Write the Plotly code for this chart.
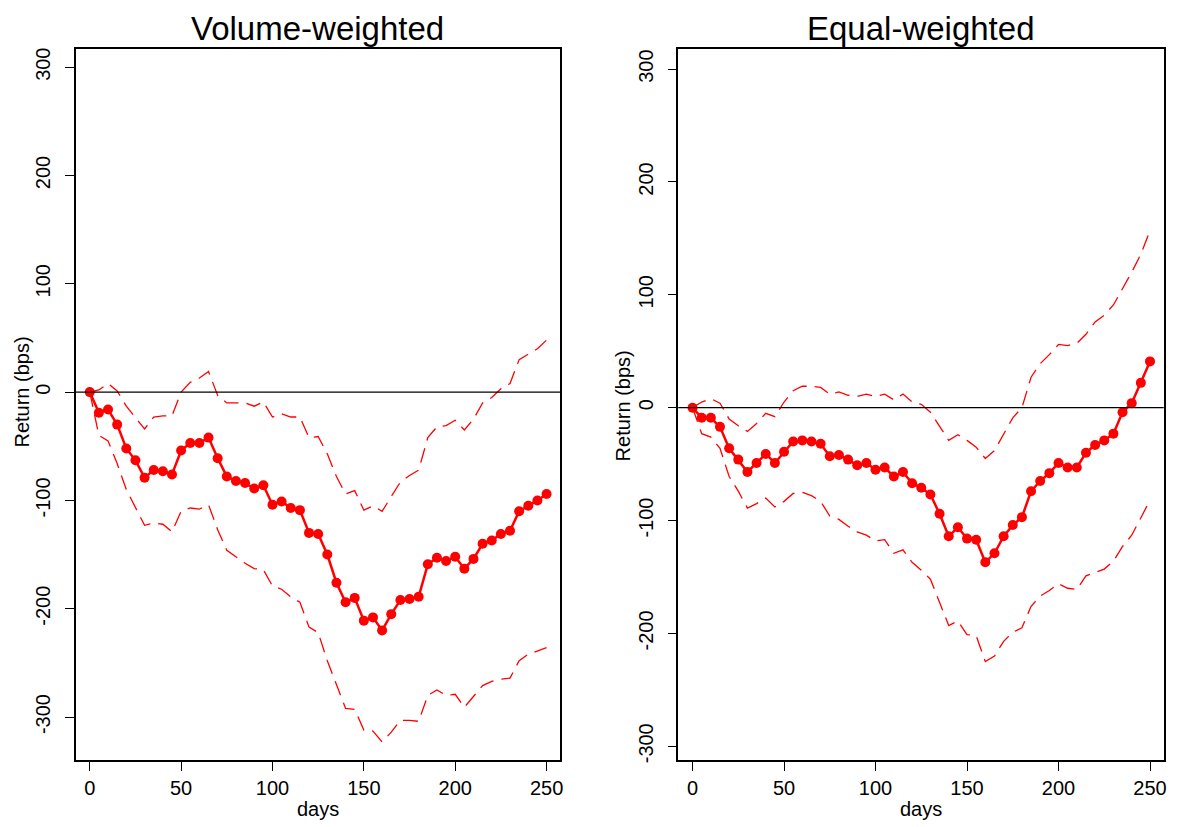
import plotly.graph_objects as go

# ---- data ----
days = [0, 5, 10, 15, 20, 25, 30, 35, 40, 45, 50, 55, 60, 65, 70, 75, 80, 85, 90, 95,
        100, 105, 110, 115, 120, 125, 130, 135, 140, 145, 150, 155, 160, 165, 170, 175,
        180, 185, 190, 195, 200, 205, 210, 215, 220, 225, 230, 235, 240, 245, 250]

vw_mean = [0, -19, -16, -30, -52, -63, -79, -72, -73, -76, -54, -47, -47, -42, -61, -78, -82,
           -84, -89, -86, -104, -101, -107, -109, -130, -131, -150, -176, -194, -190, -211,
           -208, -220, -205, -192, -191, -189, -159, -153, -156, -152, -163, -154, -140, -137,
           -131, -128, -110, -105, -100, -94]
vw_upper = [0, 2, 8, 1, -13, -24, -34, -23, -22, -22, 0, 9, 13, 19, -3, -10, -10, -10, -13, -9,
            -23, -20, -23, -23, -42, -41, -57, -78, -94, -91, -109, -105, -110, -96, -83, -77,
            -72, -42, -32, -31, -26, -35, -25, -10, -5, 3, 8, 30, 35, 40, 48]
vw_lower = [0, -40, -45, -66, -90, -107, -123, -121, -122, -129, -110, -107, -108, -104, -127,
            -146, -152, -158, -163, -164, -179, -182, -189, -194, -217, -222, -248, -270, -292,
            -293, -312, -313, -323, -314, -303, -303, -304, -280, -275, -280, -279, -291, -281,
            -271, -267, -265, -264, -248, -242, -239, -236]

ew_mean = [0, -9, -9, -17, -36, -46, -57, -49, -41, -49, -39, -30, -29, -30, -32, -43, -42, -46,
           -51, -49, -55, -53, -61, -57, -67, -71, -77, -94, -114, -106, -116, -117, -137, -129,
           -114, -104, -97, -74, -65, -58, -49, -53, -53, -40, -33, -29, -23, -4, 4, 22, 41]
ew_upper = [0, 5, 8, 4, -10, -16, -21, -14, -5, -8, 5, 15, 19, 19, 18, 12, 14, 11, 10, 12, 10,
            12, 7, 12, 5, 3, -4, -17, -29, -24, -29, -35, -45, -38, -23, -9, 0, 27, 39, 47, 56,
            55, 57, 65, 76, 82, 91, 105, 120, 136, 157]
ew_lower = [0, -23, -26, -36, -61, -74, -89, -85, -80, -88, -83, -76, -75, -78, -83, -96, -99,
            -105, -110, -113, -118, -117, -129, -126, -137, -144, -152, -173, -193, -189, -201,
            -202, -225, -220, -207, -199, -195, -176, -167, -162, -156, -160, -161, -149, -146,
            -143, -136, -123, -113, -97, -82]

titles = ["Volume-weighted", "Equal-weighted"]
y_ticks = [-300, -200, -100, 0, 100, 200, 300]
y_ticktext = ["-300", "-200", "-100", "0", "100", "200", "300"]
x_ticks = [0, 50, 100, 150, 200, 250]

# ---- figure ----
W, H = 1177, 827
FONT = "Arial, 'Liberation Sans', sans-serif"
RED = "#ff0000"

fig = go.Figure()

panels = [
    dict(mean=vw_mean, up=vw_upper, lo=vw_lower, xa="x", ya="y"),
    dict(mean=ew_mean, up=ew_upper, lo=ew_lower, xa="x2", ya="y2"),
]
for p in panels:
    for band in (p["up"], p["lo"]):
        fig.add_trace(go.Scatter(x=days, y=band, mode="lines", xaxis=p["xa"], yaxis=p["ya"],
                                 line=dict(color=RED, width=1.3, dash="15px,8px"),
                                 showlegend=False, hoverinfo="skip"))
    fig.add_trace(go.Scatter(x=days, y=p["mean"], mode="lines+markers",
                             xaxis=p["xa"], yaxis=p["ya"],
                             line=dict(color=RED, width=2.5),
                             marker=dict(color=RED, size=10),
                             showlegend=False))

xdom = [[75.7 / W, 561.7 / W], [680 / W, 1166.7 / W]]
ydom = [1 - 762.5 / H, 1 - 48 / H]
yranges = [[-339.5, 317], [-312, 318]]

axis_common = dict(showline=True, mirror=True, linecolor="black", linewidth=1.5,
                   ticks="outside", ticklen=9, tickwidth=1.3, tickcolor="black",
                   showgrid=False, zeroline=False,
                   tickfont=dict(family=FONT, size=20, color="black"))

layout = dict(width=W, height=H, margin=dict(l=0, r=0, t=0, b=0),
              plot_bgcolor="white", paper_bgcolor="white",
              font=dict(family=FONT, color="black"))
for i in range(2):
    sx = "" if i == 0 else str(i + 1)
    layout["xaxis" + sx] = dict(axis_common, domain=xdom[i], range=[-7.8, 257.5],
                                tickvals=x_ticks, anchor="y" + sx)
    layout["yaxis" + sx] = dict(axis_common, domain=ydom, range=yranges[i],
                                tickvals=y_ticks, ticktext=y_ticktext,
                                tickangle=-90, ticklabelstandoff=7,
                                anchor="x" + sx)
fig.update_layout(**layout)

shapes = []
annotations = []
for i in range(2):
    sx = "" if i == 0 else str(i + 1)
    shapes.append(dict(type="line", xref="x" + sx + " domain", x0=0, x1=1,
                       yref="y" + sx, y0=0, y1=0, line=dict(color="black", width=1.3)))
    cx = (xdom[i][0] + xdom[i][1]) / 2
    annotations.append(dict(text=titles[i], xref="paper", yref="paper", x=cx, y=1 - 28 / H,
                            xanchor="center", yanchor="middle", showarrow=False,
                            font=dict(family=FONT, size=33, color="black")))
    annotations.append(dict(text="days", xref="paper", yref="paper", x=cx, y=1 - 812 / H,
                            xanchor="center", yanchor="middle", showarrow=False,
                            font=dict(family=FONT, size=20, color="black")))
    ax_x = [22.5, 625][i]
    annotations.append(dict(text="Return (bps)", xref="paper", yref="paper", x=ax_x / W,
                            y=1 - [393, 407][i] / H, xanchor="center", yanchor="middle",
                            textangle=-90, showarrow=False,
                            font=dict(family=FONT, size=20, color="black")))
fig.update_layout(shapes=shapes, annotations=annotations)

fig.write_html("out.html")
